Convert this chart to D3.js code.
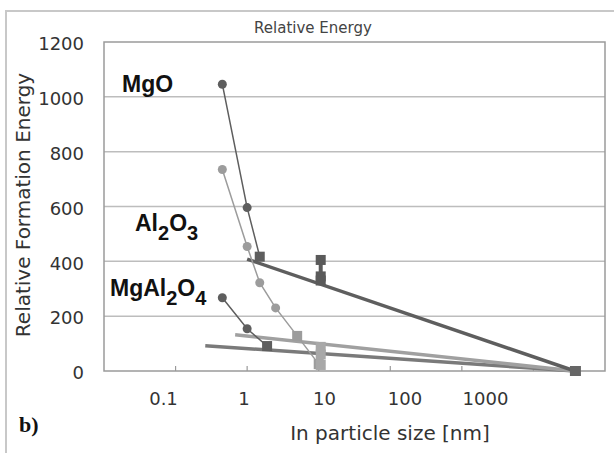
<!DOCTYPE html>
<html>
<head>
<meta charset="utf-8">
<script src="https://cdn.jsdelivr.net/npm/d3@7"></script>
<style>
  body { margin: 0; background: #fff; }
  svg { display: block; }
</style>
</head>
<body>
<svg id="chart" width="614" height="453"></svg>
<script>
// values
const yTicks = [0, 200, 400, 600, 800, 1000, 1200];
const xTickLabels = [0.1, 1, 10, 100, 1000];
const xTickMarks = [0.1, 1, 10, 100, 1000, 10000];

const mgoX = [0.45, 1, 1.5];
const mgoY = [1046, 596, 417];
const al2o3X = [0.45, 1, 1.5, 2.5, 5, 10];
const al2o3Y = [735, 454, 322, 230, 128, 25];
const mgal2o4X = [0.45, 1, 1.9];
const mgal2o4Y = [267, 154, 91];

// size 10 nm points
const mgo10 = [405, 345, 330];
const oxide10 = [88, 60, 22];

// straight bulk lines down to the end point
const bulkEnd = 38000;
const mgoBulk = [[1, 408], [bulkEnd, 0]];
const al2o3Bulk = [[0.68, 132], [bulkEnd, 0]];
const mgal2o4Bulk = [[0.26, 92], [bulkEnd, 0]];

const svg = d3.select("#chart");
const plotL = 104, plotR = 605, plotT = 42, plotB = 371;

const x = d3.scaleLog().domain([0.01, 100000]).range([plotL, plotR]);
const y = d3.scaleLinear().domain([0, 1200]).range([plotB, plotT]);
// the tick labels sit a little off the tick marks in the original
const xLab = d3.scaleLog().domain([0.1, 1000]).range([163, 485]);

// outer frame (cropped at right / bottom)
svg.append("rect")
    .attr("x", 6).attr("y", 11)
    .attr("width", 700).attr("height", 500)
    .style("fill", "none")
    .style("stroke", "#c8c8c8")
    .style("stroke-width", 2);

svg.append("text")
    .attr("x", 313).attr("y", 33)
    .attr("text-anchor", "middle")
    .style("font-family", "DejaVu Sans")
    .style("font-size", "15px")
    .style("fill", "#444")
    .text("Relative Energy");

// grid
svg.append("g")
    .selectAll("line")
    .data(yTicks.slice(1, -1))
    .enter()
    .append("line")
    .attr("x1", plotL).attr("x2", plotR)
    .attr("y1", d => y(d)).attr("y2", d => y(d))
    .style("stroke", "#bdbdbd")
    .style("stroke-width", 1.5);

svg.append("rect")
    .attr("x", plotL).attr("y", plotT)
    .attr("width", plotR - plotL).attr("height", plotB - plotT)
    .style("fill", "none")
    .style("stroke", "#9a9a9a")
    .style("stroke-width", 1.5);

// y axis labels
const yAxis = svg.append("g")
    .attr("transform", `translate(${plotL - 20},2)`)
    .call(d3.axisLeft(y).tickValues(yTicks).tickSize(0).tickPadding(0)
        .tickFormat(d3.format("d")));
yAxis.select(".domain").remove();
yAxis.selectAll("text")
    .style("font-family", "DejaVu Sans")
    .style("font-size", "18px")
    .style("fill", "#333");

// x tick marks (inside) and labels
svg.append("g")
    .selectAll("line")
    .data(xTickMarks)
    .enter()
    .append("line")
    .attr("x1", d => x(d)).attr("x2", d => x(d))
    .attr("y1", plotB).attr("y2", plotB - 5)
    .style("stroke", "#9a9a9a")
    .style("stroke-width", 1.2);

const xAxis = svg.append("g")
    .attr("transform", `translate(0,${plotB + 21})`)
    .call(d3.axisBottom(xLab).tickValues(xTickLabels).tickSize(0).tickPadding(0)
        .tickFormat(d => String(d)));
xAxis.select(".domain").remove();
xAxis.selectAll("text")
    .style("font-family", "DejaVu Sans")
    .style("font-size", "18px")
    .style("fill", "#333");

svg.append("text")
    .attr("x", 390).attr("y", 440)
    .attr("text-anchor", "middle")
    .style("font-family", "DejaVu Sans")
    .style("font-size", "20px")
    .style("fill", "#333")
    .text("In particle size [nm]");

svg.append("text")
    .attr("transform", "translate(30,205) rotate(-90)")
    .attr("text-anchor", "middle")
    .style("font-family", "DejaVu Sans")
    .style("font-size", "20px")
    .style("fill", "#333")
    .text("Relative Formation Energy");

svg.append("text")
    .attr("x", 19).attr("y", 432)
    .style("font-family", "Liberation Serif")
    .style("font-weight", "bold")
    .style("font-size", "22px")
    .style("fill", "#111")
    .text("b)");

// series
const line = d3.line().x(d => x(d[0])).y(d => y(d[1]));

const drawBulk = (pts, color) => {
    svg.append("path")
        .datum(pts)
        .attr("d", line)
        .style("fill", "none")
        .style("stroke", color)
        .style("stroke-width", 3.5);
};
drawBulk(mgal2o4Bulk, "#7a7a7a");
drawBulk(al2o3Bulk, "#a0a0a0");
drawBulk(mgoBulk, "#5e5e5e");

const drawSeries = (xs, ys, color, squareFrom) => {
    const pts = xs.map((v, i) => [v, ys[i]]);
    svg.append("path")
        .datum(pts)
        .attr("d", line)
        .style("fill", "none")
        .style("stroke", color)
        .style("stroke-width", 1.5);
    svg.append("g")
        .selectAll("circle")
        .data(pts.slice(0, squareFrom))
        .enter()
        .append("circle")
        .attr("cx", d => x(d[0]))
        .attr("cy", d => y(d[1]))
        .attr("r", 4.5)
        .style("fill", color);
    svg.append("g")
        .selectAll("rect")
        .data(pts.slice(squareFrom))
        .enter()
        .append("rect")
        .attr("x", d => x(d[0]) - 5)
        .attr("y", d => y(d[1]) - 5)
        .attr("width", 10).attr("height", 10)
        .style("fill", color);
};
drawSeries(al2o3X, al2o3Y, "#9c9c9c", 4);
drawSeries(mgal2o4X, mgal2o4Y, "#5e5e5e", 2);
drawSeries(mgoX, mgoY, "#5e5e5e", 2);

// points at 10 nm
const drawColumn = (vals, color) => {
    svg.append("line")
        .attr("x1", x(10) + 2).attr("x2", x(10) + 2)
        .attr("y1", y(d3.max(vals))).attr("y2", y(d3.min(vals)))
        .style("stroke", color)
        .style("stroke-width", 4);
    svg.append("g")
        .selectAll("rect")
        .data(vals)
        .enter()
        .append("rect")
        .attr("x", x(10) + 2 - 5)
        .attr("y", d => y(d) - 5)
        .attr("width", 10).attr("height", 10)
        .style("fill", color);
};
drawColumn(oxide10, "#a8a8a8");
drawColumn(mgo10, "#5a5a5a");

// end point
svg.append("rect")
    .attr("x", x(bulkEnd) - 5).attr("y", y(0) - 5)
    .attr("width", 11).attr("height", 10)
    .style("fill", "#666");

// compound labels
const label = (parts, lx, ly) => {
    const t = svg.append("text")
        .attr("x", lx).attr("y", ly)
        .style("font-family", "Liberation Sans")
        .style("font-weight", "bold")
        .style("font-size", "23px")
        .style("fill", "#111");
    let shifted = false;
    parts.forEach(p => {
        const sub = /^[0-9]$/.test(p);
        const ts = t.append("tspan").text(p);
        if (sub && !shifted) { ts.attr("dy", 9).style("font-size", "20px"); shifted = true; }
        else if (sub) { ts.style("font-size", "20px"); }
        else if (shifted) { ts.attr("dy", -9); shifted = false; }
    });
};
label(["MgO"], 122, 92);
label(["Al", "2", "O", "3"], 135, 231);
label(["MgAl", "2", "O", "4"], 110, 296);
</script>
</body>
</html>
